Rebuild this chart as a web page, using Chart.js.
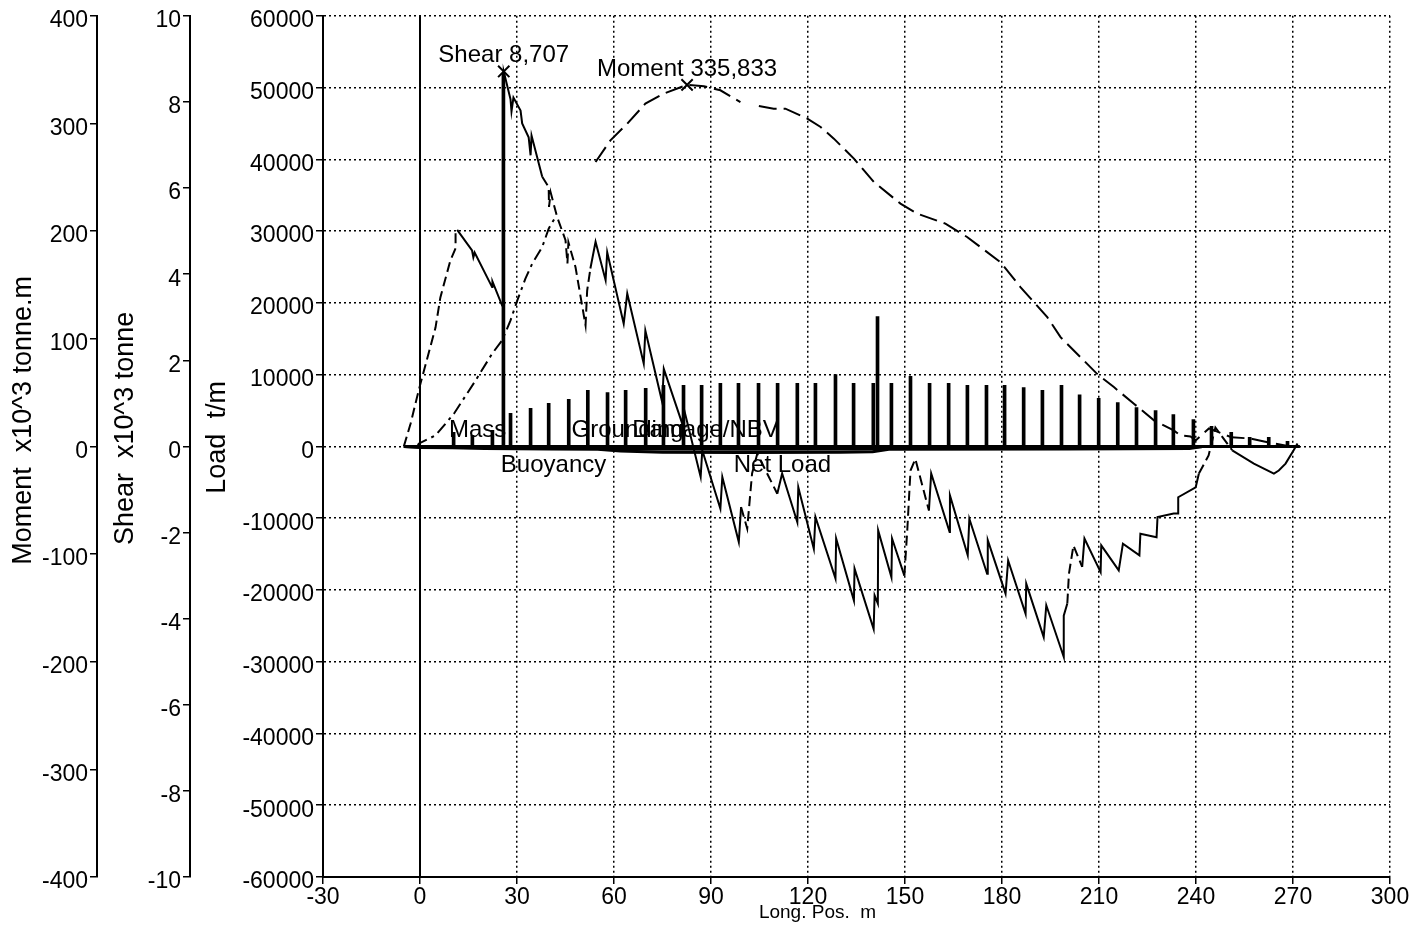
<!DOCTYPE html>
<html><head><meta charset="utf-8">
<script src="https://cdn.jsdelivr.net/npm/chart.js@4.4.0/dist/chart.umd.min.js"></script>
<style>html,body{margin:0;padding:0;background:#fff;}</style>
</head><body>
<canvas id="c" width="1420" height="940"></canvas>
<script>
// ---- data ----
const shearX = [-5.0,-2.9,-0.9,0.15,4.8,6.3,9.4,11.0,11.0,11.5,16.1,16.5,16.9,22.3,22.4,25.4,25.8,25.9,28.0,28.3,28.9,31.1,31.6,33.6,34.2,34.5,37.8,39.8,39.9,40.4,42.4,45.0,45.6,45.9,48.1,51.2,51.7,52.7,54.3,57.4,57.9,63.0,64.1,69.2,69.7,74.9,75.4,81.1,81.6,86.8,87.3,92.9,93.5,98.6,99.3,101.2,102.7,104.3,110.5,112.0,116.7,117.0,121.8,122.3,128.5,128.7,134.2,134.4,140.3,140.6,141.6,141.7,145.8,146.0,149.8,150.7,151.7,153.2,157.4,158.1,163.8,163.9,169.4,169.9,175.4,175.6,181.1,181.9,187.3,187.5,192.9,193.7,199.1,199.1,200.2,200.7,202.1,204.8,205.5,210.5,210.7,216.1,217.4,222.5,222.8,227.8,228.1,233.1,234.5,234.5,239.9,240.9,241.4,243.9,246.0,251.2,257.9,264.1,265.6,267.7,270.2,271.4];
const shearV = [0.0,0.53,1.15,1.46,2.76,3.46,4.32,4.6,4.95,5.03,4.55,4.39,4.5,3.70,3.83,3.27,3.27,8.707,8.06,7.78,8.1,7.8,7.5,7.18,6.76,7.22,6.26,6.02,5.56,5.9,5.33,4.79,4.25,4.74,4.16,2.81,3.62,4.13,4.75,3.86,4.51,2.85,3.55,1.92,2.69,1.03,1.80,0.53,0.88,-0.71,-0.09,-1.45,-0.71,-2.22,-1.41,-1.91,-0.63,-0.17,-1.10,-0.63,-1.76,-0.95,-2.38,-1.64,-3.07,-2.14,-3.58,-2.84,-4.24,-3.46,-3.65,-1.95,-3.04,-2.14,-3.0,-1.95,-0.56,-0.29,-1.49,-0.63,-1.99,-1.14,-2.53,-1.68,-2.96,-2.18,-3.42,-2.65,-3.89,-3.19,-4.43,-3.69,-4.89,-3.93,-3.65,-2.96,-2.30,-2.80,-2.14,-2.92,-2.30,-2.88,-2.26,-2.53,-2.03,-2.11,-1.64,-1.56,-1.56,-1.18,-0.95,-0.63,-0.56,-0.21,0.44,-0.09,-0.40,-0.63,-0.56,-0.40,-0.09,0.07];

const momentX = [-0.8,-0.4,4.8,10.5,17.2,22.3,25.4,28.0,30.1,32.6,34.7,37.8,39.8,41.9,48.0,54.3,58.9,64.1,69.7,75.4,82.6,87.8,92.9,99.1,102.0,104.8,109.4,113.0,119.8,123.9,128.0,134.2,140.4,148.6,153.8,162.5,169.2,179.5,185.7,194.0,198.1,205.3,209.4,214.6,220.8,227.0,233.1,235.2,238.3,239.9,244.0,251.0,256.6,262.5,269.2];
const momentV = [0,2.5,10.2,30.4,61.3,86.1,98.5,117.1,135.7,155.8,169.8,185.2,202.3,213.1,null,264.2,284.3,299.8,318.4,327.7,335.833,334.5,330.8,319.9,null,316.2,313.7,313.7,304.5,296.7,285.9,267.3,245.6,225.5,216.2,206.9,194.5,171.2,148.0,120.1,101.5,79.8,67.4,55.1,39.6,24.2,14.9,10.2,9.3,5.6,16.7,8.4,7.4,3.7,0];

const massX = [10.4,16.2,22.4,25.8,28.0,34.2,39.8,46.0,51.9,58.0,63.6,69.8,75.3,81.5,87.1,92.9,98.5,104.7,110.6,116.7,122.3,128.5,134.1,140.2,141.5,145.8,151.7,157.6,163.5,169.3,175.2,180.8,186.7,192.5,198.4,204.0,209.9,215.8,221.6,227.5,233.0,239.2,244.8,250.9,256.6,262.5,268.3];
const massV = [1950,1530,2230,52000,4600,5300,6000,6550,7800,7500,7800,8100,8500,8500,8500,8800,8800,8800,8800,8800,8800,10000,8800,8800,18100,8800,9750,8800,8800,8500,8500,8500,8200,7800,8500,7200,6700,6100,5400,5000,4450,3750,2800,1950,1250,1250,700];

const buoyX = [-5,0,10,20,40,55,62,75,100,130,140,145,200,238,242,272];
const buoyV = [0,-150,-200,-300,-350,-400,-650,-800,-850,-800,-750,-400,-350,-300,0,0];
const groundX = [-5,272];
const groundV = [0,0];
const damageX = [-5,272];
const damageV = [0,0];
const netX = [-5,0,40,62,100,140,150,238,242,272];
const netV = [0,-100,-150,-350,-400,-350,-150,-150,0,0];

const apX = [0,0];
const apV = [-60000,60000];

const xTickValues = [-30,0,30,60,90,120,150,180,210,240,270,300];
const loadTickValues = [-60000,-50000,-40000,-30000,-20000,-10000,0,10000,20000,30000,40000,50000,60000];
const shearTickValues = [-10,-8,-6,-4,-2,0,2,4,6,8,10];
const momentTickValues = [-400,-300,-200,-100,0,100,200,300,400];

const shearMaxX = [25.9];
const shearMaxV = [8.707];
const shearMaxText = 'Shear 8,707';
const momentMaxX = [82.6];
const momentMaxV = [335.833];
const momentMaxText = 'Moment 335,833';

const curveLabelNames = ['Mass','Buoyancy','Grounding','Damage/NBV','Net Load'];
const curveLabelX = [17.8,41.3,64.2,88.3,112.1];
const curveLabelSide = [1,-1,1,1,-1];

const xTitle = 'Long. Pos.  m';
const yTitles = {yMoment: 'Moment  x10^3 tonne.m', yShear: 'Shear  x10^3 tonne', yLoad: 'Load  t/m'};

// ---- styling ----
const FAM = '"Liberation Sans", Arial, sans-serif';
Chart.defaults.font.family = FAM;
Chart.defaults.color = '#000';
const tickFont = {size: 23, family: FAM};
const dotted = [2, 3];
const shearDashRanges = [[-6,11.2],[36,52],[99,104.5],[149.5,153.5],[199.5,202.5],[240,246.5]];
// title layout: distance of title centre from axis box left edge, and shift upward from the chart-area middle
const yTitleStyle = {yMoment: {dx: 24, up: 26}, yShear: {dx: 29, up: 18}, yLoad: {dx: 28, up: 9}};

const pts = (xs, vs) => xs.map((x, i) => ({x: x, y: vs[i]}));
const ticksFrom = vals => function(scale){ scale.ticks = vals.map(v => ({value: v})); };

const lineBase = {type: 'line', borderColor: '#000', backgroundColor: '#000', pointRadius: 0, tension: 0, fill: false, spanGaps: false};

const annot = {
  id: 'annot',
  afterDatasetsDraw(chart) {
    const {ctx} = chart;
    const sx = chart.scales.x, yl = chart.scales.yLoad, ys = chart.scales.yShear, ym = chart.scales.yMoment;
    ctx.save();
    ctx.fillStyle = '#000';
    ctx.font = '24px ' + FAM;
    ctx.textAlign = 'center';
    ctx.textBaseline = 'middle';
    const z = yl.getPixelForValue(0);
    curveLabelNames.forEach((t, i) => {
      ctx.fillText(t, sx.getPixelForValue(curveLabelX[i]), z + (curveLabelSide[i] > 0 ? -16 : 19));
    });
    ctx.fillText(shearMaxText, sx.getPixelForValue(shearMaxX[0]), ys.getPixelForValue(shearMaxV[0]) - 16);
    ctx.fillText(momentMaxText, sx.getPixelForValue(momentMaxX[0]), ym.getPixelForValue(momentMaxV[0]) - 16);
    ctx.restore();
  },
  afterDraw(chart) {
    const {ctx, chartArea} = chart;
    const sx = chart.scales.x;
    ctx.save();
    ctx.fillStyle = '#000';
    ctx.textAlign = 'center';
    ctx.textBaseline = 'middle';
    // x axis title
    ctx.font = '19px ' + FAM;
    const xl = chart.scales.yLoad.left + 55;
    ctx.fillText(xTitle, (xl + chartArea.right) / 2, sx.bottom - 27);
    // y axis titles (rotated)
    ctx.font = '27px ' + FAM;
    const mid = (chartArea.top + chartArea.bottom) / 2;
    Object.keys(yTitles).forEach(id => {
      const s = chart.scales[id], st = yTitleStyle[id];
      ctx.save();
      ctx.translate(s.left + st.dx, mid - st.up);
      ctx.rotate(-Math.PI / 2);
      ctx.fillText(yTitles[id], 0, 0);
      ctx.restore();
    });
    ctx.restore();
  }
};

new Chart(document.getElementById('c'), {
  data: {
    datasets: [
      Object.assign({}, lineBase, {label: 'Shear', yAxisID: 'yShear', data: pts(shearX, shearV), borderWidth: 2,
        segment: {borderDash: c => shearDashRanges.some(r => c.p0.parsed.x >= r[0] && c.p0.parsed.x < r[1]) ? [10, 5] : []}}),
      Object.assign({}, lineBase, {label: 'Moment', yAxisID: 'yMoment', data: pts(momentX, momentV), borderWidth: 2,
        segment: {borderDash: c => c.p0.parsed.x < 45 ? [12, 5, 3, 5] : [18, 7]}}),
      {type: 'bar', label: 'Mass', yAxisID: 'yLoad', data: pts(massX, massV), backgroundColor: '#000', borderWidth: 0, barThickness: 3},
      Object.assign({}, lineBase, {label: 'Buoyancy', yAxisID: 'yLoad', data: pts(buoyX, buoyV), borderWidth: 3}),
      Object.assign({}, lineBase, {label: 'Grounding', yAxisID: 'yLoad', data: pts(groundX, groundV), borderWidth: 3}),
      Object.assign({}, lineBase, {label: 'Damage/NBV', yAxisID: 'yLoad', data: pts(damageX, damageV), borderWidth: 2}),
      Object.assign({}, lineBase, {label: 'Net Load', yAxisID: 'yLoad', data: pts(netX, netV), borderWidth: 3}),
      Object.assign({}, lineBase, {label: 'AP', yAxisID: 'yLoad', data: pts(apX, apV), borderWidth: 2}),
      {type: 'scatter', label: 'Shear max', yAxisID: 'yShear', data: pts(shearMaxX, shearMaxV), pointStyle: 'crossRot', pointRadius: 8, borderColor: '#000', borderWidth: 2},
      {type: 'scatter', label: 'Moment max', yAxisID: 'yMoment', data: pts(momentMaxX, momentMaxV), pointStyle: 'crossRot', pointRadius: 8, borderColor: '#000', borderWidth: 2}
    ]
  },
  options: {
    responsive: false,
    animation: false,
    devicePixelRatio: 1,
    layout: {padding: {left: 0, right: 30, top: 15, bottom: 0}},
    plugins: {legend: {display: false}, tooltip: {enabled: false}},
    scales: {
      x: {
        type: 'linear', min: -30, max: 300, offset: false,
        afterBuildTicks: ticksFrom(xTickValues),
        ticks: {color: '#000', font: tickFont, padding: 0, maxRotation: 0, autoSkip: false, callback: v => String(v)},
        grid: {color: '#000', lineWidth: 1.5, tickLength: 7, tickColor: '#000', offset: false},
        border: {display: true, color: '#000', width: 2, dash: dotted},
        title: {display: false},
        afterFit(s) { s.height = 63; }
      },
      yMoment: {
        type: 'linear', position: 'left', weight: 3, min: -400, max: 400,
        afterBuildTicks: ticksFrom(momentTickValues),
        ticks: {color: '#000', font: tickFont, padding: 2, labelOffset: 5, callback: v => String(v)},
        grid: {drawOnChartArea: false, color: '#000', lineWidth: 1.5, tickLength: 7},
        border: {display: true, color: '#000', width: 2},
        title: {display: false},
        afterFit(s) { s.width = 97; }
      },
      yShear: {
        type: 'linear', position: 'left', weight: 2, min: -10, max: 10,
        afterBuildTicks: ticksFrom(shearTickValues),
        ticks: {color: '#000', font: tickFont, padding: 2, labelOffset: 5, callback: v => String(v)},
        grid: {drawOnChartArea: false, color: '#000', lineWidth: 1.5, tickLength: 7},
        border: {display: true, color: '#000', width: 2},
        title: {display: false},
        afterFit(s) { s.width = 93; }
      },
      yLoad: {
        type: 'linear', position: 'left', weight: 1, min: -60000, max: 60000,
        afterBuildTicks: ticksFrom(loadTickValues),
        ticks: {color: '#000', font: tickFont, padding: 2, labelOffset: 5, callback: v => String(v)},
        grid: {color: '#000', lineWidth: 1.5, tickLength: 7, tickColor: '#000'},
        border: {display: true, color: '#000', width: 2, dash: dotted},
        title: {display: false},
        afterFit(s) { s.width = 133; }
      }
    }
  },
  plugins: [annot]
});
</script>
</body></html>
